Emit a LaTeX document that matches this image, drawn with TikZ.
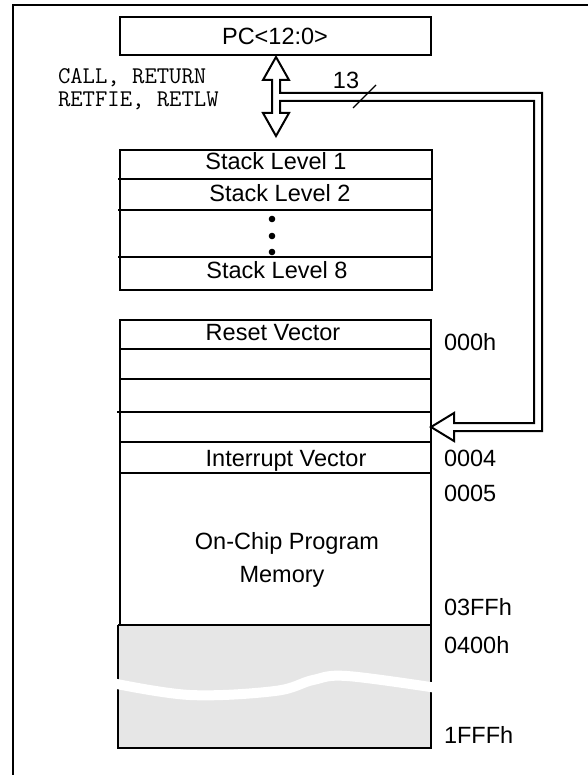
\documentclass[tikz,border=0pt]{standalone}
\usepackage{fontspec}
\setmainfont{Liberation Sans}
\definecolor{memgrey}{HTML}{E6E6E6}
\begin{document}
\begin{tikzpicture}[x=1pt,y=-1pt,line width=2pt,
  txt/.style={font=\fontsize{23.5}{26}\selectfont,inner sep=0pt,anchor=base},
  addr/.style={font=\fontsize{23.5}{26}\selectfont,inner sep=0pt,anchor=base west},
  instr/.style={font=\ttfamily\fontsize{24}{24}\selectfont,inner sep=0pt,anchor=base west},
  row/.style={draw,line width=2pt}]
\useasboundingbox (0,0) rectangle (587,775);

% frame (top and left edges only)
\draw[line width=2.5pt] (13,785) -- (13,5) -- (597,5);

% program counter
\draw[row] (120,17) rectangle (431,55);
\node[txt] (pc) at (275,45) {PC<12:0>};

% instruction labels
\node[instr] (calls) at (57,84) {CALL, RETURN};
\node[instr] (rets) at (57,107) {RETFIE, RETLW};

% hollow double arrow with the 13-bit bus branching to the memory
\draw[fill=white,line width=2pt,line join=miter]
  (276,57) -- (289,80) -- (280,80) -- (280,93) -- (542,93) -- (542,431)
  -- (454,431) -- (454,441) -- (431,427) -- (454,413) -- (454,423)
  -- (534,423) -- (534,101) -- (280,101) -- (280,113) -- (289,113)
  -- (276,136) -- (263,113) -- (272,113) -- (272,80) -- (263,80) -- cycle;
\draw[line width=1.2pt] (353,108) -- (376,85);
\node[txt] (bits) at (346,89) {13};

% hardware stack
\draw[row] (120,150) rectangle (432,290);
\draw[row] (118,179) -- (432,179);
\draw[row] (118,210) -- (432,210);
\draw[row] (118,257) -- (432,257);
\node[txt] (s1) at (276,170) {Stack Level 1};
\node[txt] (s2) at (280,202) {Stack Level 2};
\node[txt] (s8) at (277,279) {Stack Level 8};
\fill (272,219) circle (3.3);
\fill (272,236) circle (3.3);
\fill (272,252) circle (3.3);

% program memory map
\fill[memgrey] (118,625) rectangle (431,748);
\draw[row] (118,625) -- (118,748) -- (431,748) -- (431,625);
\draw[row] (120,625) -- (120,320) -- (431,320) -- (431,625) -- (118,625);
\draw[row] (120,349) -- (431,349);
\draw[row] (120,379) -- (431,379);
\draw[row] (117,412) -- (431,412);
\draw[row] (120,442) -- (431,442);
\draw[row] (120,473) -- (431,473);
\draw[white,line width=10pt] plot[smooth,tension=0.6] coordinates
  {(112,683) (190,695) (275,691) (313,680) (347,676) (437,688)};

\node[txt] (reset) at (273,340) {Reset Vector};
\node[txt] (irq) at (286,466) {Interrupt Vector};
\node[txt] (onchip) at (287,549) {On-Chip Program};
\node[txt] (mem) at (282,582) {Memory};

% addresses
\node[addr] (a0) at (443,350) {000h};
\node[addr] (a4) at (443,466) {0004};
\node[addr] (a5) at (443,501) {0005};
\node[addr] (a3ff) at (443,615) {03FFh};
\node[addr] (a400) at (443,653) {0400h};
\node[addr] (a1fff) at (443,743) {1FFFh};
\end{tikzpicture}
\end{document}
